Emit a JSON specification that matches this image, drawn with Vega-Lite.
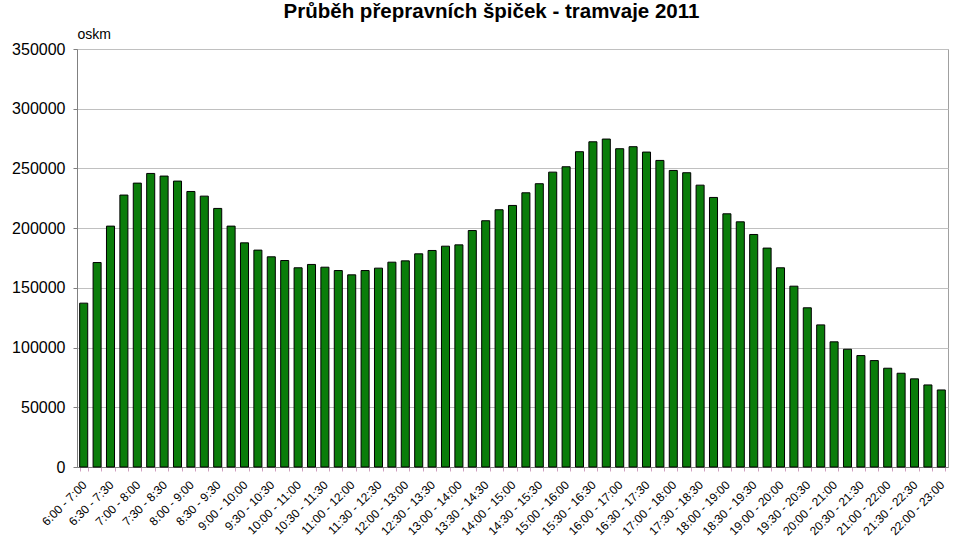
{
  "$schema": "https://vega.github.io/schema/vega-lite/v6.json",
  "width": 871,
  "height": 418,
  "autosize": "none",
  "padding": {"left": 77, "top": 49, "right": 12, "bottom": 76},
  "background": "white",
  "title": {
    "text": "Průběh přepravních špiček - tramvaje 2011",
    "font": "Liberation Sans",
    "fontSize": 20.5,
    "fontWeight": "bold",
    "color": "#000000",
    "anchor": "middle",
    "dx": -21,
    "offset": 5
  },
  "config": {
    "view": {"stroke": "#a0a0a0", "strokeWidth": 1},
    "axis": {"labelFont": "Liberation Sans", "titleFont": "Liberation Sans"}
  },
  "data": {
    "values": [
      {"interval": "6:00 - 7:00", "oskm": 137200},
      {"interval": "6:15 - 7:15", "oskm": 171200},
      {"interval": "6:30 - 7:30", "oskm": 201700},
      {"interval": "6:45 - 7:45", "oskm": 227700},
      {"interval": "7:00 - 8:00", "oskm": 237700},
      {"interval": "7:15 - 8:15", "oskm": 245800},
      {"interval": "7:30 - 8:30", "oskm": 243600},
      {"interval": "7:45 - 8:45", "oskm": 239400},
      {"interval": "8:00 - 9:00", "oskm": 230700},
      {"interval": "8:15 - 9:15", "oskm": 226800},
      {"interval": "8:30 - 9:30", "oskm": 216500},
      {"interval": "8:45 - 9:45", "oskm": 201700},
      {"interval": "9:00 - 10:00", "oskm": 187700},
      {"interval": "9:15 - 10:15", "oskm": 181600},
      {"interval": "9:30 - 10:30", "oskm": 176000},
      {"interval": "9:45 - 10:45", "oskm": 172900},
      {"interval": "10:00 - 11:00", "oskm": 166800},
      {"interval": "10:15 - 11:15", "oskm": 169600},
      {"interval": "10:30 - 11:30", "oskm": 167300},
      {"interval": "10:45 - 11:45", "oskm": 164500},
      {"interval": "11:00 - 12:00", "oskm": 160900},
      {"interval": "11:15 - 12:15", "oskm": 164500},
      {"interval": "11:30 - 12:30", "oskm": 166500},
      {"interval": "11:45 - 12:45", "oskm": 171500},
      {"interval": "12:00 - 13:00", "oskm": 172600},
      {"interval": "12:15 - 13:15", "oskm": 178500},
      {"interval": "12:30 - 13:30", "oskm": 181300},
      {"interval": "12:45 - 13:45", "oskm": 184900},
      {"interval": "13:00 - 14:00", "oskm": 186000},
      {"interval": "13:15 - 14:15", "oskm": 198000},
      {"interval": "13:30 - 14:30", "oskm": 206200},
      {"interval": "13:45 - 14:45", "oskm": 215400},
      {"interval": "14:00 - 15:00", "oskm": 219000},
      {"interval": "14:15 - 15:15", "oskm": 229600},
      {"interval": "14:30 - 15:30", "oskm": 237200},
      {"interval": "14:45 - 15:45", "oskm": 246900},
      {"interval": "15:00 - 16:00", "oskm": 251400},
      {"interval": "15:15 - 16:15", "oskm": 264000},
      {"interval": "15:30 - 16:30", "oskm": 272300},
      {"interval": "15:45 - 16:45", "oskm": 274600},
      {"interval": "16:00 - 17:00", "oskm": 266500},
      {"interval": "16:15 - 17:15", "oskm": 268200},
      {"interval": "16:30 - 17:30", "oskm": 263700},
      {"interval": "16:45 - 17:45", "oskm": 256700},
      {"interval": "17:00 - 18:00", "oskm": 248300},
      {"interval": "17:15 - 18:15", "oskm": 246400},
      {"interval": "17:30 - 18:30", "oskm": 236000},
      {"interval": "17:45 - 18:45", "oskm": 225700},
      {"interval": "18:00 - 19:00", "oskm": 212000},
      {"interval": "18:15 - 19:15", "oskm": 205300},
      {"interval": "18:30 - 19:30", "oskm": 194700},
      {"interval": "18:45 - 19:45", "oskm": 183300},
      {"interval": "19:00 - 20:00", "oskm": 166800},
      {"interval": "19:15 - 20:15", "oskm": 151400},
      {"interval": "19:30 - 20:30", "oskm": 133300},
      {"interval": "19:45 - 20:45", "oskm": 119000},
      {"interval": "20:00 - 21:00", "oskm": 104800},
      {"interval": "20:15 - 21:15", "oskm": 98600},
      {"interval": "20:30 - 21:30", "oskm": 93300},
      {"interval": "20:45 - 21:45", "oskm": 89100},
      {"interval": "21:00 - 22:00", "oskm": 82700},
      {"interval": "21:15 - 22:15", "oskm": 78500},
      {"interval": "21:30 - 22:30", "oskm": 73800},
      {"interval": "21:45 - 22:45", "oskm": 68700},
      {"interval": "22:00 - 23:00", "oskm": 64500}
    ]
  },
  "mark": {"type": "bar", "fill": "#0a7d0a", "stroke": "#000000", "strokeWidth": 1},
  "encoding": {
    "x": {
      "field": "interval",
      "type": "nominal",
      "sort": null,
      "scale": {"paddingInner": 0.4, "paddingOuter": 0.2},
      "axis": {
        "title": null,
        "labelAngle": -45,
        "labelFontSize": 12,
        "labelColor": "#000000",
        "labelOverlap": false,
        "labelPadding": 8,
        "labelOffset": -3,
        "labelExpr": "test(/:(15|45) -/, datum.label) ? '' : datum.label",
        "tickBand": "extent",
        "tickSize": 4,
        "tickColor": "#d0a0c0",
        "domainColor": "#808080",
        "grid": false
      }
    },
    "y": {
      "field": "oskm",
      "type": "quantitative",
      "scale": {"domain": [0, 350000], "nice": false},
      "axis": {
        "title": "oskm",
        "titleAngle": 0,
        "titleAlign": "left",
        "titleBaseline": "bottom",
        "titleX": 0,
        "titleY": -8,
        "titleFontSize": 14,
        "titleFontWeight": "normal",
        "titleColor": "#000000",
        "values": [0, 50000, 100000, 150000, 200000, 250000, 300000, 350000],
        "format": "d",
        "labelFontSize": 16,
        "labelColor": "#000000",
        "labelPadding": 8,
        "tickSize": 4,
        "tickColor": "#808080",
        "domainColor": "#808080",
        "grid": true,
        "gridColor": "#c0c0c0",
        "gridWidth": 1
      }
    }
  }
}
